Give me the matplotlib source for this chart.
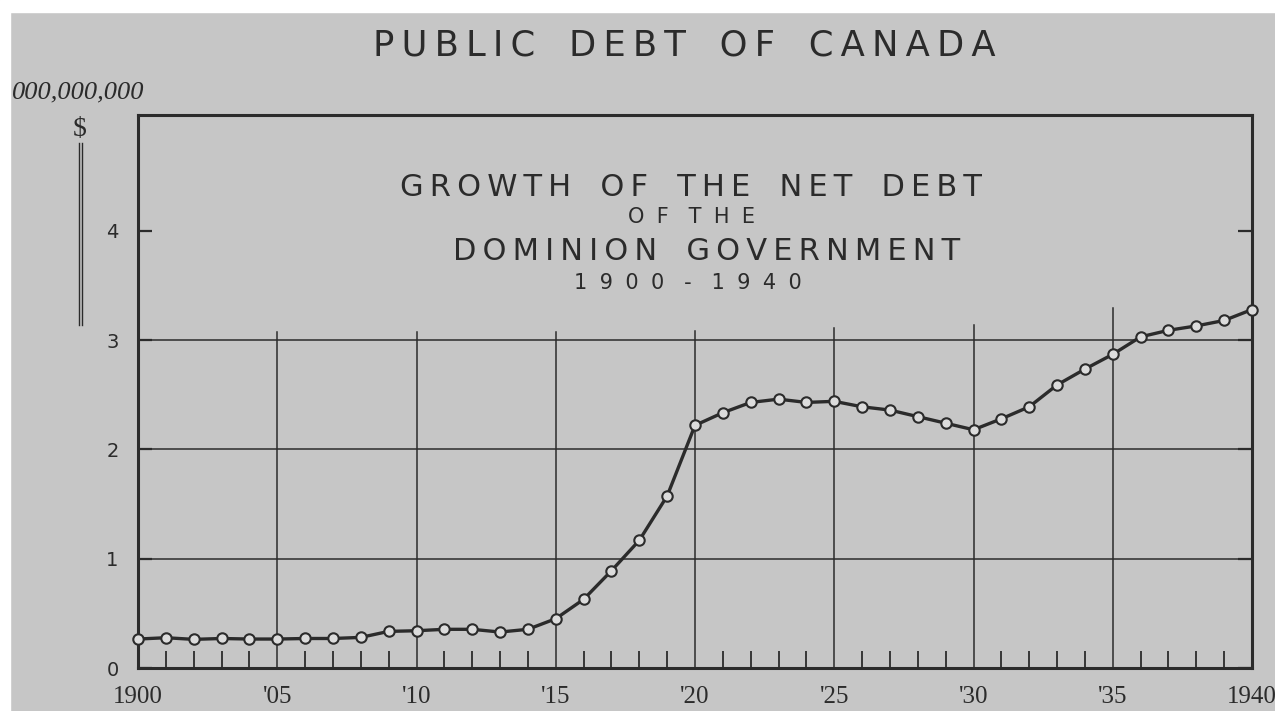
import matplotlib.pyplot as plt
from matplotlib.lines import Line2D
from matplotlib.patches import Rectangle

# net debt of the Dominion government, billions of dollars
years = list(range(1900, 1941))
debt = [0.265, 0.277, 0.262, 0.270, 0.265, 0.265, 0.270, 0.270, 0.280, 0.335,
        0.341, 0.354, 0.354, 0.329, 0.354, 0.451, 0.628, 0.890, 1.168, 1.574,
        2.220, 2.336, 2.430, 2.460, 2.430, 2.440, 2.390, 2.360, 2.300, 2.240,
        2.180, 2.280, 2.390, 2.590, 2.735, 2.870, 3.030, 3.090, 3.130, 3.180,
        3.280]

grid_years = [1905, 1910, 1915, 1920, 1925, 1930, 1935]
grid_tops = [3.07, 3.07, 3.07, 3.08, 3.11, 3.14, 3.29]
grid_levels = [1, 2, 3]
x_labels = ["1900", "'05", "'10", "'15", "'20", "'25", "'30", "'35", "1940"]
y_ticks = [0, 1, 2, 3, 4]

ink = "#2b2b2b"
paper = "#c6c6c6"


def spaced(s, n=1):
    # wide lettering: thin spaces between letters, bigger gap between words
    gap = "\u2009" * n
    return "   ".join(gap.join(w) for w in s.split(" "))


fig = plt.figure(figsize=(12.75, 7.11), dpi=100, facecolor=paper)
# white scan edges
fig.patches.append(Rectangle((0, 0.983), 1, 0.017, transform=fig.transFigure,
                             color="white", zorder=0))
fig.patches.append(Rectangle((0, 0), 0.008, 1, transform=fig.transFigure,
                             color="white", zorder=0))

ax = fig.add_axes([138 / 1275, 1 - 668 / 711, (1252 - 138) / 1275, (668 - 115) / 711])
ax.set_facecolor(paper)
ax.set_xlim(1900, 1940)
ax.set_ylim(0, 5.06)

for s in ax.spines.values():
    s.set_linewidth(2.2)
    s.set_color(ink)

for lv in grid_levels:
    ax.axhline(lv, color=ink, lw=1.1, zorder=1)
for yr, top in zip(grid_years, grid_tops):
    ax.plot([yr, yr], [0, top], color=ink, lw=1.1, zorder=1)

ax.plot(years, debt, color=ink, lw=2.4, marker="o", ms=7.5,
        mfc="#dcdcdc", mec=ink, mew=1.5, zorder=3, clip_on=False)

ax.set_xticks(list(range(1900, 1941, 5)))
ax.set_xticklabels(x_labels, family="Liberation Serif", fontsize=18, color=ink)
ax.set_xticks(years, minor=True)
ax.tick_params(axis="x", which="minor", direction="in", length=12, width=1.3,
               color=ink, top=False)
ax.tick_params(axis="x", which="major", direction="in", length=0, pad=13)

ax.set_yticks(y_ticks)
ax.set_yticklabels([str(v) for v in y_ticks], family="DejaVu Sans",
                   fontsize=14, color=ink)
ax.tick_params(axis="y", direction="in", length=10, width=1.6, color=ink,
               right=True, pad=14)

# titles
fig.text(684 / 1275, 1 - 45 / 711, spaced("PUBLIC DEBT OF CANADA"),
         ha="center", va="center", fontsize=25.5, color=ink, family="DejaVu Sans")
lines = [("GROWTH OF THE NET DEBT", 691, 187, 22, 1),
         ("OF THE", 691, 217, 15, 3),
         ("DOMINION GOVERNMENT", 707, 252, 22, 1),
         ("1900 - 1940", 688, 283, 15, 3)]
for txt, x, y, fs, n in lines:
    fig.text(x / 1275, 1 - y / 711, spaced(txt, n), ha="center", va="center",
             fontsize=fs, color=ink, family="DejaVu Sans")

fig.text(12 / 1275, 1 - 92 / 711, "000,000,000", ha="left", va="center",
         fontsize=19, style="italic", color=ink, family="Liberation Serif")
fig.text(80 / 1275, 1 - 130 / 711, "$", ha="center", va="center",
         fontsize=20, color=ink, family="Liberation Serif")
for dx in (-1.5, 1.5):
    fig.add_artist(Line2D([(80 + dx) / 1275] * 2, [1 - 143 / 711, 1 - 325 / 711],
                          transform=fig.transFigure, color=ink, lw=1.0))

fig.savefig("out.png", dpi=100, facecolor=paper)
